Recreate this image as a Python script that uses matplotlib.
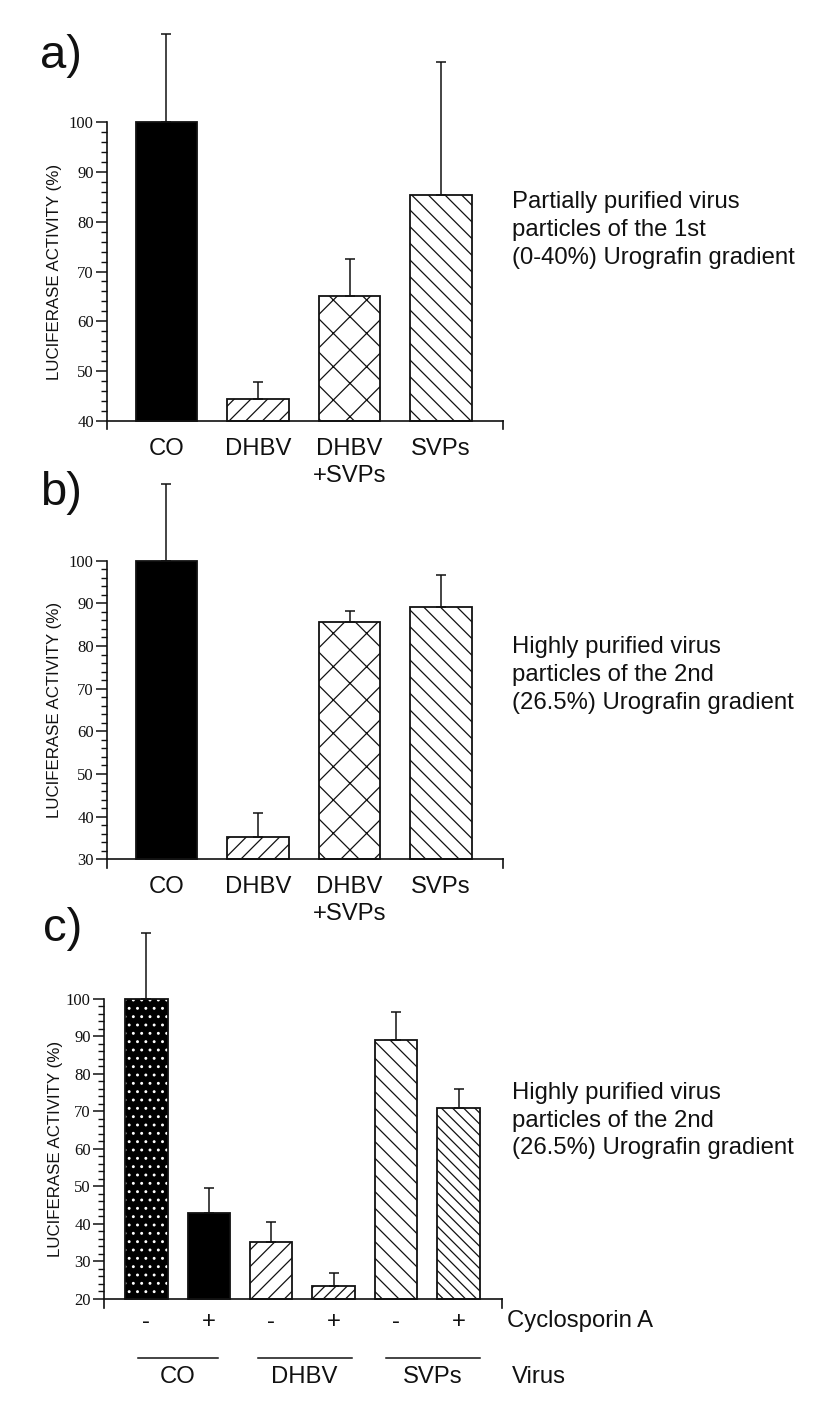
import matplotlib
matplotlib.use("Agg")
import matplotlib.pyplot as plt
import matplotlib.transforms as mtransforms
from matplotlib.ticker import FixedLocator
import numpy as np

plt.rcParams["font.family"] = ["Liberation Sans", "DejaVu Sans"]
plt.rcParams["hatch.linewidth"] = 0.9

W, H = 826, 1421
INK = "#111111"
FS = 17.2

# --- data ---
cats_ab = ["CO", "DHBV", "DHBV\n+SVPs", "SVPs"]
a_vals = [100, 44.4, 65.1, 85.4]
a_err = [17.7, 3.4, 7.5, 26.6]
b_vals = [100, 35.3, 85.7, 89.2]
b_err = [17.9, 5.5, 2.6, 7.4]

c_cyclo = ["-", "+", "-", "+", "-", "+"]
c_vals = [100, 42.8, 35.1, 23.5, 89.1, 70.9]
c_err = [17.7, 6.9, 5.3, 3.5, 7.4, 5.1]
c_groups = ["CO", "DHBV", "SVPs"]

a_note = ["Partially purified virus", "particles of the 1st", "(0-40%) Urografin gradient"]
b_note = ["Highly purified virus", "particles of the 2nd", "(26.5%) Urografin gradient"]
c_note = ["Highly purified virus", "particles of the 2nd", "(26.5%) Urografin gradient"]

YLABEL = "LUCIFERASE ACTIVITY (%)"

# bar looks
ab_styles = [
    dict(facecolor="black", hatch=None),
    dict(facecolor="white", hatch="//"),
    dict(facecolor="white", hatch="x"),
    dict(facecolor="white", hatch="\\\\"),
]
c_styles = [
    dict(facecolor="black", hatch="..", dots=True),
    dict(facecolor="black", hatch=None),
    dict(facecolor="white", hatch="//"),
    dict(facecolor="white", hatch="///"),
    dict(facecolor="white", hatch="\\\\"),
    dict(facecolor="white", hatch="\\\\\\"),
]
c_spans = [(-0.14, 1.15), (1.78, 3.29), (3.83, 5.35)]


def add_panel(fig, x0, x1, base, base_px, top_px, ymin, ymax=120):
    """Place axes so that `base` and 100 land on the given pixel rows."""
    scale = (base_px - top_px) / (100 - base)
    bottom_px = base_px + (base - ymin) * scale
    upper_px = top_px - (ymax - 100) * scale
    ax = fig.add_axes([x0 / W, 1 - bottom_px / H, (x1 - x0) / W, (bottom_px - upper_px) / H])
    ax.set_ylim(ymin, ymax)
    ax.set_facecolor("none")
    return ax


def style_axis(ax, base, xlim, ylabel_x):
    ymin = ax.get_ylim()[0]
    ax.set_xlim(*xlim)
    ax.spines["top"].set_visible(False)
    ax.spines["right"].set_visible(False)
    ax.spines["bottom"].set_position(("data", base))
    ax.spines["left"].set_bounds(ymin, 100)
    for s in ("left", "bottom"):
        ax.spines[s].set_linewidth(1.2)
        ax.spines[s].set_color(INK)
    ax.yaxis.set_major_locator(FixedLocator(np.arange(base, 101, 10)))
    ax.yaxis.set_minor_locator(FixedLocator(np.arange(base, 101, 2)))
    ax.tick_params(axis="y", which="major", length=8, width=1.1, pad=1.5,
                   labelsize=12, labelfontfamily="Liberation Serif", color=INK, labelcolor=INK)
    ax.tick_params(axis="y", which="minor", length=4.5, width=1.0, color=INK)
    ax.tick_params(axis="x", length=0, labelsize=FS, labelcolor=INK)
    ax.plot([xlim[1], xlim[1]], [base, ymin], color=INK, lw=1.2, clip_on=False)
    tr = mtransforms.blended_transform_factory(ax.figure.transFigure, ax.transData)
    ax.text(ylabel_x / W, (base + 100) / 2, YLABEL, transform=tr, rotation=90,
            ha="center", va="center", fontsize=12.2, color=INK)


def draw_bars(ax, vals, err, styles, base, width):
    x = np.arange(len(vals))
    heights = np.array(vals) - base
    for i, st in enumerate(styles):
        if st.get("dots"):
            ax.bar(x[i], heights[i], width, bottom=base, facecolor=st["facecolor"],
                   edgecolor="white", hatch=st["hatch"], linewidth=0, zorder=2)
            ax.bar(x[i], heights[i], width, bottom=base, facecolor="none",
                   edgecolor=INK, linewidth=1.3, zorder=3)
        else:
            ax.bar(x[i], heights[i], width, bottom=base, facecolor=st["facecolor"],
                   edgecolor=INK, hatch=st["hatch"], linewidth=1.3, zorder=2)
    ax.errorbar(x, vals, yerr=[np.zeros(len(vals)), err], fmt="none", ecolor=INK,
                elinewidth=1.1, capsize=3.3, capthick=1.1, zorder=4)
    return x


def note(fig, lines, x_px, first_px, step_px):
    for i, line in enumerate(lines):
        fig.text(x_px / W, 1 - (first_px + i * step_px) / H, line,
                 fontsize=FS, va="baseline", ha="left", color=INK)


fig = plt.figure(figsize=(W / 100, H / 100), dpi=100, facecolor="white")

# panel a
ax_a = add_panel(fig, 107, 502.7, 40, 421, 122, 38.4)
xa = draw_bars(ax_a, a_vals, a_err, ab_styles, 40, 0.67)
style_axis(ax_a, 40, (-0.65, 3.674), 55)
ax_a.set_xticks(xa, cats_ab)
ax_a.tick_params(axis="x", pad=12)
for t in ax_a.get_xticklabels():
    t.set_linespacing(1.3)

# panel b
ax_b = add_panel(fig, 107, 502.7, 30, 859.3, 560.7, 28)
xb = draw_bars(ax_b, b_vals, b_err, ab_styles, 30, 0.67)
style_axis(ax_b, 30, (-0.65, 3.674), 55)
ax_b.set_xticks(xb, cats_ab)
ax_b.tick_params(axis="x", pad=12)
for t in ax_b.get_xticklabels():
    t.set_linespacing(1.3)

# panel c
ax_c = add_panel(fig, 104, 501.7, 20, 1299, 998.9, 17.6)
xc = draw_bars(ax_c, c_vals, c_err, c_styles, 20, 0.68)
style_axis(ax_c, 20, (-0.678, 5.69), 56)
ax_c.set_xticks(xc, c_cyclo)
ax_c.tick_params(axis="x", pad=9)

tr_c = mtransforms.blended_transform_factory(ax_c.transData, fig.transFigure)
for name, (lo, hi) in zip(c_groups, c_spans):
    ax_c.plot([lo, hi], [1 - 1358.3 / H] * 2, transform=tr_c, color=INK, lw=1.1, clip_on=False)
    ax_c.text((lo + hi) / 2, 1 - 1382.7 / H, name, transform=tr_c, ha="center",
              va="baseline", fontsize=FS, color=INK)
fig.text(507 / W, 1 - 1326.7 / H, "Cyclosporin A", fontsize=FS, va="baseline", color=INK)
fig.text(511.7 / W, 1 - 1382.7 / H, "Virus", fontsize=FS, va="baseline", color=INK)

# panel letters and side notes
fig.text(40 / W, 1 - 68 / H, "a)", fontsize=34, va="baseline", color=INK)
fig.text(40 / W, 1 - 505 / H, "b)", fontsize=34, va="baseline", color=INK)
fig.text(43 / W, 1 - 941 / H, "c)", fontsize=34, va="baseline", color=INK)

note(fig, a_note, 512, 207.7, 28)
note(fig, b_note, 512, 653.3, 28)
note(fig, c_note, 512, 1099, 27.5)

fig.savefig("out.png", dpi=100, facecolor="white")
plt.close(fig)
